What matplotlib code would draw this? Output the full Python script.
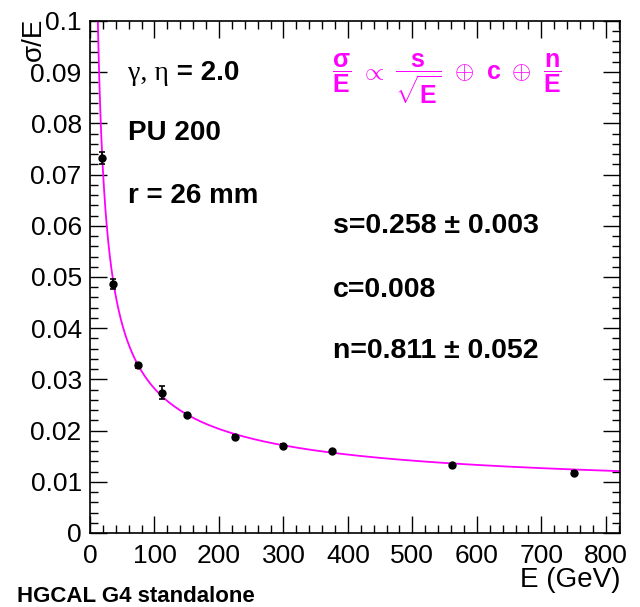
import numpy as np
import matplotlib
matplotlib.use("Agg")
import matplotlib.pyplot as plt
from matplotlib.ticker import MultipleLocator

# data
energy = [19, 36, 75, 112, 150, 225, 300, 375, 562, 750]
sigma_over_e = [0.0732, 0.0486, 0.0328, 0.0274, 0.0231, 0.0188, 0.0170, 0.0160, 0.0132, 0.0118]
sigma_err = [0.0012, 0.0010, 0.0005, 0.0013, 0.0004, 0.0003, 0.0003, 0.0003, 0.0003, 0.0003]
fit_s, fit_c, fit_n = 0.258, 0.008, 0.811

W, H = 640, 607
plt.rcParams['font.family'] = ['Liberation Sans', 'DejaVu Sans']
plt.rcParams['mathtext.fontset'] = 'custom'
plt.rcParams['mathtext.rm'] = 'Liberation Sans:bold'
plt.rcParams['mathtext.bf'] = 'Liberation Sans:bold'
plt.rcParams['mathtext.it'] = 'Liberation Sans:bold'
plt.rcParams['mathtext.sf'] = 'Liberation Sans:bold'

fig = plt.figure(figsize=(W / 100, H / 100), dpi=100)
L, R, T, B = 90, 620, 21, 533
ax = fig.add_axes([L / W, 1 - B / H, (R - L) / W, (B - T) / H])

# fit curve
e_curve = np.linspace(5, 822, 2000)
curve = np.sqrt(fit_s**2 / e_curve + fit_c**2 + (fit_n / e_curve) ** 2)
ax.plot(e_curve, curve, color='#ff00ff', lw=1.3, zorder=2, clip_on=True)

ax.errorbar(energy, sigma_over_e, yerr=sigma_err, fmt='o', color='black',
            ms=5, elinewidth=1.2, capsize=2.5, capthick=1.2, zorder=3)

ax.set_xlim(0, 822)
ax.set_ylim(0, 0.1)
ax.xaxis.set_major_locator(MultipleLocator(100))
ax.xaxis.set_minor_locator(MultipleLocator(20))
ax.yaxis.set_major_locator(MultipleLocator(0.01))
ax.yaxis.set_minor_locator(MultipleLocator(0.002))
ax.yaxis.set_major_formatter(plt.FuncFormatter(lambda v, p: ('%g' % round(v, 3))))
ax.tick_params(which='both', direction='in', top=True, right=True, width=1.0)
ax.tick_params(which='major', length=12, labelsize=19)
ax.tick_params(which='minor', length=6)
ax.tick_params(axis='x', pad=8)
ax.tick_params(axis='y', pad=6)
for sp in ax.spines.values():
    sp.set_linewidth(1.2)

# axis titles
fig.text(R / W, 1 - 580 / H, 'E (GeV)', ha='right', va='center', fontsize=20)
fig.text(34 / W, 1 - 18 / H, 'σ/E', ha='center', va='top', rotation=90, fontsize=20)
fig.text(17 / W, 1 - 596 / H, 'HGCAL G4 standalone', ha='left', va='center',
         fontsize=16, fontweight='bold')

# labels inside
t1 = fig.text(128 / W, 1 - 73 / H, 'γ, η', ha='left', va='center', fontsize=20,
              family=['Liberation Serif', 'DejaVu Serif'])
ax.annotate(' = 2.0', xy=(1, 0.5), xycoords=t1, ha='left', va='center',
            fontsize=20, fontweight='bold')
fig.text(128 / W, 1 - 133 / H, 'PU 200', ha='left', va='center', fontsize=20, fontweight='bold')
fig.text(128 / W, 1 - 196 / H, 'r = 26 mm', ha='left', va='center', fontsize=20, fontweight='bold')

fig.text(333 / W, 1 - 226 / H, 's=0.258 ± 0.003', ha='left', va='center', fontsize=20.5, fontweight='bold')
fig.text(333 / W, 1 - 290 / H, 'c=0.008', ha='left', va='center', fontsize=20.5, fontweight='bold')
fig.text(333 / W, 1 - 351 / H, 'n=0.811 ± 0.052', ha='left', va='center', fontsize=20.5, fontweight='bold')

fig.text(332 / W, 1 - 79 / H,
         r'$\dfrac{\sigma}{E}\ \propto\ \dfrac{s}{\sqrt{E}}\ \oplus\ c\ \oplus\ \dfrac{n}{E}$',
         ha='left', va='center', fontsize=18, color='#ff00ff')

fig.savefig('out.png', dpi=100)
